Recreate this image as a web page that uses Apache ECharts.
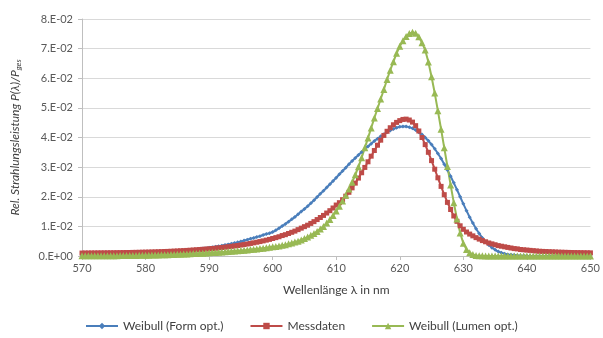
<!DOCTYPE html>
<html>
<head>
<meta charset="utf-8">
<script src="https://cdn.jsdelivr.net/npm/echarts@6/dist/echarts.min.js"></script>
<style>
  html, body { margin: 0; padding: 0; background: #fff; }
  #chart { width: 603px; height: 338px; }
</style>
</head>
<body>
<div id="chart"></div>
<script>
// wavelength grid: 570..650 nm in 0.5 nm steps
var lambdaStart = 570, lambdaStep = 0.5;

var seriesNames = ['Weibull (Form opt.)', 'Messdaten', 'Weibull (Lumen opt.)'];
var yTickLabels = ['0.E+00', '1.E-02', '2.E-02', '3.E-02', '4.E-02', '5.E-02', '6.E-02', '7.E-02', '8.E-02'];

var weibullForm = [
    .0002, .00022, .00024, .00026, .00028, .0003, .00032, .00034, .00037, .0004, .00042, .00045, .00048, .00051, .00055, .00059, .00063, .00067, .00072, .00077, .00082,
    .00087, .00093, .00099, .00106, .00113, .0012, .00128, .00136, .00145, .00154, .00164, .00174, .00185, .00197, .00209, .00222, .00235, .0025, .00265, .0028,
    .00296, .0031, .00328, .0035, .0037, .0039, .0041, .0044, .0046, .0049, .0052, .0055, .0058, .0061, .0064, .0067, .0071, .0074, .0077, .0081,
    .0087, .0094, .0101, .0108, .0116, .0124, .0132, .0141, .0150, .0159, .0168, .0178, .0188, .0199, .0210, .0220, .0231, .0242, .0253, .0264,
    .0276, .0287, .0298, .0310, .0321, .0331, .0341, .0351, .0361, .0370, .0379, .0388, .0396, .0404, .0411, .0418, .0424, .0429, .0433, .0436,
    .0437, .0437, .0435, .0431, .0425, .0418, .0410, .0400, .0389, .0376, .0362, .0346, .0329, .0310, .0290, .0269, .0247, .0224, .0200, .0176,
    .0153, .0131, .0111, .0092, .0076, .0061, .0048, .0037, .0028, .0021, .0015, .0011, .0008, .0005, .0004, .0003, .0002, .0001, .0001, .00005,
    .00003, .00003, .00003, .00002, .00002, .00002, .00002, .00002, .00002, .00002, .00002, .00002, .00002, .00002, .00002, .00002, .00002, .00002, .00002, .00002
];

var messdaten = [
    .00100, .00101, .00102, .00103, .00104, .00105, .00106, .00107, .00108, .00109, .00110, .00112, .00113, .00115, .00117, .00119, .00121, .00123, .00125, .00128, .00130,
    .00133, .00136, .00139, .00143, .00147, .00151, .00155, .00160, .00165, .00170, .00176, .00182, .00188, .00195, .00202, .00210, .00218, .00226, .00234, .00243,
    .00253, .00264, .00275, .00287, .00299, .00312, .00326, .00340, .00355, .00370, .00387, .00405, .00424, .00444, .00465, .00487, .00510, .00535, .00561, .00590,
    .0062, .0065, .0069, .0072, .0076, .0080, .0084, .0089, .0094, .0099, .0104, .0110, .0116, .0123, .0130, .0137, .0145, .0153, .0162, .0172,
    .0180, .0190, .0202, .0215, .0230, .0246, .0263, .0281, .0299, .0318, .0337, .0356, .0374, .0391, .0407, .0421, .0433, .0443, .0451, .0457,
    .0461, .0462, .0459, .0452, .0440, .0422, .0400, .0376, .0350, .0322, .0293, .0264, .0235, .0207, .0181, .0157, .0135, .0117, .0102, .0090,
    .0081, .0074, .0068, .0062, .0057, .0052, .0048, .0044, .0041, .0038, .0035, .0033, .0031, .0029, .0027, .0025, .0024, .0022, .0021, .0020,
    .0019, .0018, .0017, .0016, .00155, .0015, .00145, .0014, .00135, .0013, .00127, .00124, .00121, .00118, .00116, .00114, .00112, .0011, .00108, .00106
];

var weibullLumen = [
    .00005, .00005, .00006, .00006, .00007, .00007, .00008, .00008, .00009, .0001, .00011, .00012, .00013, .00014, .00015, .00016, .00018, .0002, .00022, .00024, .00026,
    .00028, .0003, .00033, .00036, .00039, .00042, .00045, .00049, .00053, .00057, .00061, .00066, .00071, .00076, .00081, .00086, .00091, .00097, .00103, .0011,
    .00116, .00122, .00129, .00136, .00143, .00151, .00159, .00168, .00177, .00186, .00196, .00206, .00217, .00228, .0024, .00252, .00265, .00278, .00292, .0031,
    .0032, .0034, .0036, .0038, .0041, .0044, .0047, .0050, .0054, .0059, .0064, .0070, .0076, .0083, .0091, .0100, .0111, .0123, .0137, .0152,
    .0168, .0186, .0205, .0226, .0249, .0274, .0301, .0332, .0365, .0398, .0432, .0466, .0498, .0530, .0562, .0596, .0627, .0656, .0684, .0708,
    .0727, .0741, .0751, .0755, .0752, .0740, .0720, .0695, .0655, .0605, .0550, .0490, .0428, .0365, .0302, .0240, .0180, .0125, .0078, .0043,
    .0022, .0011, .0005, .0002, .0001, .00005, .00003, .00002, .00001, .00001, .00001, .00001, .00001, .00001, .00001, .00001, .00001, .00001, .00001, .00001,
    .00001, .00001, .00001, .00001, .00001, .00001, .00001, .00001, .00001, .00001, .00001, .00001, .00001, .00001, .00001, .00001, .00001, .00001, .00001, .00001
];

function pairs(values) {
    var out = [];
    for (var i = 0; i < values.length; i++) {
        out.push([lambdaStart + i * lambdaStep, values[i]]);
    }
    return out;
}

var font = 'Lato, "Open Sans", sans-serif';
var textCol = '#404040';

var option = {
    animation: false,
    backgroundColor: '#fff',
    grid: { left: 82, right: 8, top: 19, bottom: 82 },
    legend: {
        left: 80, top: 315,
        itemWidth: 32, itemHeight: 8, itemGap: 26,
        textStyle: { fontFamily: font, fontSize: 12, color: textCol },
        data: seriesNames
    },
    xAxis: {
        type: 'value', min: 570, max: 650, interval: 10,
        name: 'Wellenlänge λ in nm',
        nameLocation: 'middle', nameGap: 28,
        nameTextStyle: { fontFamily: font, fontSize: 12, color: textCol },
        axisLine: { lineStyle: { color: '#bfbfbf' } },
        axisTick: { show: true, length: 4, lineStyle: { color: '#bfbfbf' } },
        axisLabel: { fontFamily: font, fontSize: 11, color: '#595959', margin: 7 },
        splitLine: { show: false }
    },
    yAxis: {
        type: 'value', min: 0, max: 0.08, interval: 0.01,
        name: '{i|Rel. Strahlungsleistung P(λ)/P}{s|ges}',
        nameLocation: 'middle', nameGap: 60, nameRotate: 90,
        nameTextStyle: {
            rich: {
                i: { fontFamily: font, fontSize: 12, fontStyle: 'italic', color: textCol },
                s: { fontFamily: font, fontSize: 8, fontStyle: 'italic', color: textCol, verticalAlign: 'bottom', padding: [6, 0, 0, 0] }
            }
        },
        axisLine: { show: true, lineStyle: { color: '#bfbfbf' } },
        axisTick: { show: true, length: 4, lineStyle: { color: '#bfbfbf' } },
        axisLabel: {
            fontFamily: font, fontSize: 11, color: '#595959', margin: 9,
            formatter: function (v) { return yTickLabels[Math.round(v * 100)]; }
        },
        splitLine: { lineStyle: { color: '#d9d9d9', width: 1 } }
    },
    series: [
        {
            name: seriesNames[0], type: 'line', data: pairs(weibullForm),
            symbol: 'diamond', symbolSize: 4, showAllSymbol: true,
            lineStyle: { color: '#4a7ebb', width: 2 },
            itemStyle: { color: '#4a7ebb' }
        },
        {
            name: seriesNames[1], type: 'line', data: pairs(messdaten),
            symbol: 'rect', symbolSize: 5, showAllSymbol: true,
            lineStyle: { color: '#be4b48', width: 2 },
            itemStyle: { color: '#be4b48' }
        },
        {
            name: seriesNames[2], type: 'line', data: pairs(weibullLumen),
            symbol: 'triangle', symbolSize: 7, showAllSymbol: true,
            lineStyle: { color: '#98b954', width: 2 },
            itemStyle: { color: '#98b954' }
        }
    ]
};

var myChart = echarts.init(document.getElementById('chart'));
myChart.setOption(option);
</script>
</body>
</html>
